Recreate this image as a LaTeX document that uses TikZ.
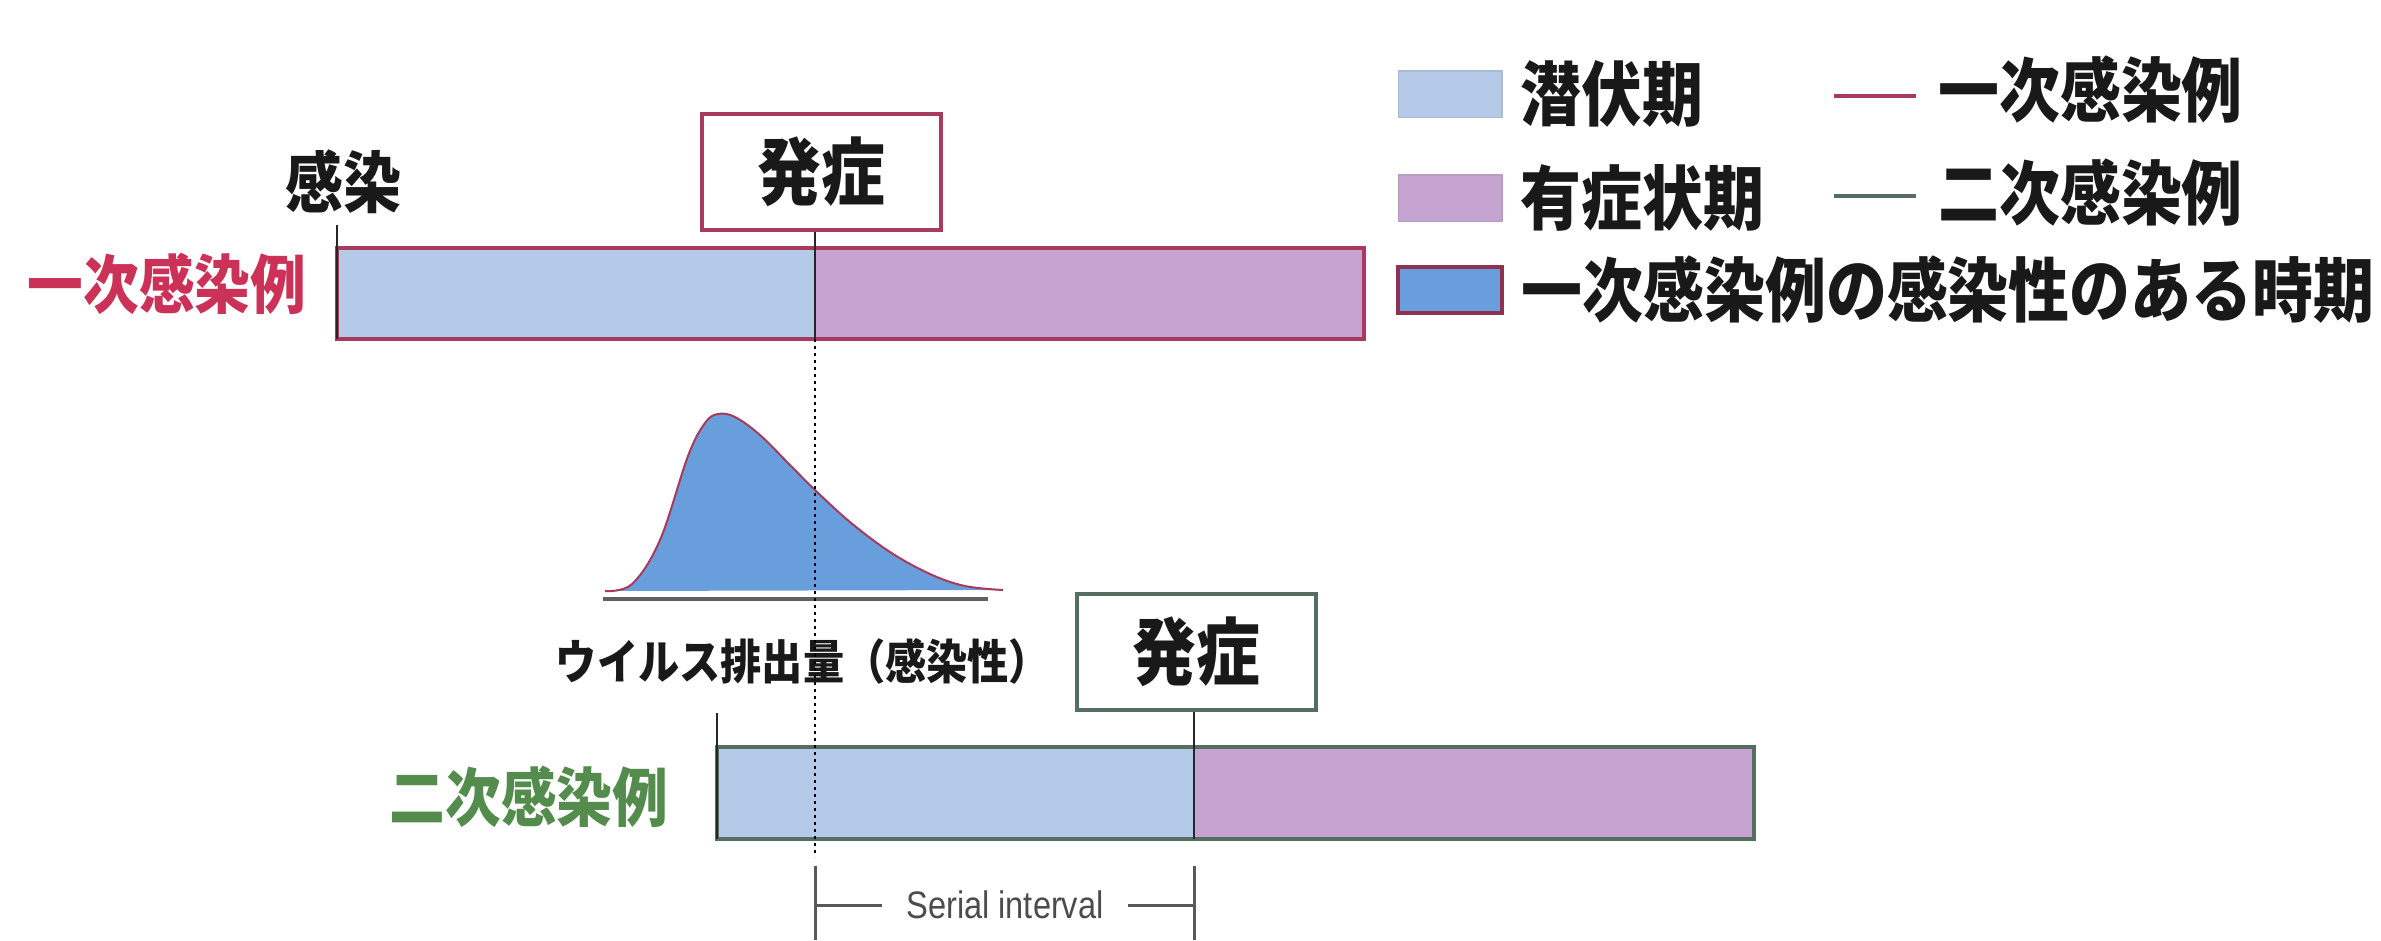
\documentclass[tikz,border=0pt]{standalone}
\usepackage{fontspec}
\newfontfamily\jpfont[FakeStretch=0.87]{Noto Sans CJK JP}
\newfontfamily\sifont[FakeStretch=0.85]{Liberation Sans}
\usetikzlibrary{positioning}
\definecolor{latent}{RGB}{181,202,232}
\definecolor{symptom}{RGB}{198,164,210}
\definecolor{infect}{RGB}{104,158,220}
\definecolor{firstedge}{RGB}{168,58,94}
\definecolor{firstlabel}{RGB}{204,50,88}
\definecolor{secondedge}{RGB}{86,110,96}
\definecolor{secondlabel}{RGB}{84,140,78}

\begin{document}
\begin{tikzpicture}[x=0.3pt,y=-0.3pt,thick,
  jp/.style={font=\jpfont\bfseries\fontsize{#1}{#1}\selectfont,text=black!90,inner sep=0pt},
  case label/.style={jp=19.2pt,text=#1},
  onset node/.style={draw=#1,line width=1.2pt,fill=white,jp=22pt,minimum width=71.7pt,minimum height=35pt},
  key box/.style={fill=#1,draw=#1!80!gray,line width=0.5pt,minimum width=31pt,minimum height=14pt,inner sep=0pt},
  key text/.style={jp=21pt,anchor=west},
  bar edge/.style={draw=#1,line width=1.4pt},
  tick/.style={line width=0.8pt,black!85},
  dots/.style={line width=0.7pt,dash pattern=on 1pt off 1.1pt},
  bracket/.style={line width=0.9pt,black!65}]

  \useasboundingbox (0,0) rectangle (2381,940);

  % primary case
  \coordinate (A0) at (337,248);
  \coordinate (A1) at (815,248);
  \coordinate (A2) at (1364,339);
  \node[case label=firstlabel] (lblA) at (167,284) {一次感染例};
  \node[jp=20pt] (infA) at (343,182) {感染};
  \node[onset node=firstedge] (onA) at (821,172) {発症};
  \fill[latent] (A0) rectangle (A1 |- A2);
  \fill[symptom] (A1) rectangle (A2);
  \draw[bar edge=firstedge] (A0) rectangle (A2);
  \draw[tick] (A0) ++(0,-23) -- (A0 |- A2);
  \draw[tick] (onA.south -| A1) -- (A1 |- A2);

  % viral shedding
  \fill[infect] plot[smooth,tension=0.6] coordinates {(605,591) (632,584) (660,540) (688,456) (705,423) (718,414) (735,417) (760,435) (790,465) (815,490) (850,522) (890,552) (930,574) (965,586) (1003,590)} -- cycle;
  \draw[firstedge,line width=0.6pt] plot[smooth,tension=0.6] coordinates {(605,591) (632,584) (660,540) (688,456) (705,423) (718,414) (735,417) (760,435) (790,465) (815,490) (850,522) (890,552) (930,574) (965,586) (1003,590)};
  \draw[gray!75!black,line width=1.1pt] (603,599) -- (988,599);
  \node[jp=14.2pt] (shed) at (803,661) {ウイルス排出量（感染性）};

  % secondary case
  \coordinate (B0) at (717,747);
  \coordinate (B1) at (1194,747);
  \coordinate (B2) at (1754,839);
  \node[case label=secondlabel] (lblB) at (529,797) {二次感染例};
  \node[onset node=secondedge] (onB) at (1196,652) {発症};
  \fill[latent] (B0) rectangle (B1 |- B2);
  \fill[symptom] (B1) rectangle (B2);
  \draw[bar edge=secondedge] (B0) rectangle (B2);
  \draw[tick] (B0) ++(0,-34) -- (B0 |- B2);
  \draw[tick] (onB.south -| B1) -- (B1 |- B2);

  % serial interval
  \coordinate (S0) at (815,866);
  \coordinate (S1) at (1194,866);
  \node[font=\sifont\fontsize{11.5pt}{11.5pt}\selectfont,text=black!70,inner xsep=7pt,inner ysep=0pt] (si) at (1005,905) {Serial interval};
  \draw[dots,shorten >=2.7pt] (A1 |- A2) -- (S0);
  \draw[bracket] (S0) -- ++(0,74);
  \draw[bracket] (S1) -- ++(0,74);
  \draw[bracket] (si.west) -- (si.west -| S0);
  \draw[bracket] (si.east) -- (si.east -| S1);

  % legend
  \foreach \k/\c/\y/\t in {Lat/latent/94/潜伏期, Sym/symptom/198/有症状期} {
    \node[key box=\c] (k\k) at (1450,\y) {};
    \node[key text,right=5pt of k\k] (t\k) {\t};
  }
  \node[key box=infect,draw=firstedge!85!black,line width=1.2pt] (kInf) at (1450,290) {};
  \node[key text,right=5pt of kInf] (tInf) {一次感染例の感染性のある時期};
  \node[key text] (tA) at (1937,90) {一次感染例};
  \node[key text] (tB) at (1937,193) {二次感染例};
  \draw[firstedge,line width=1.2pt] (tA.west) ++(-21,6) -- ++(-82,0);
  \draw[secondedge,line width=1.2pt] (tB.west) ++(-21,3) -- ++(-82,0);
\end{tikzpicture}
\end{document}
